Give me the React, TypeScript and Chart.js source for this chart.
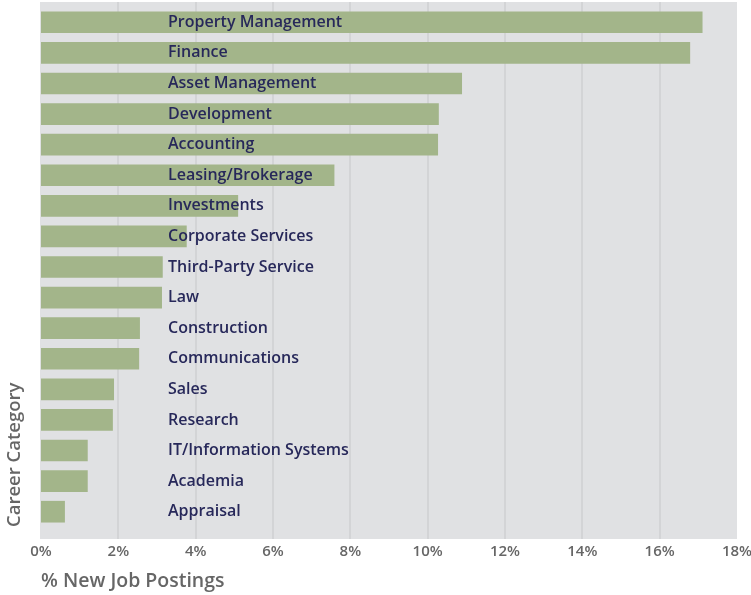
import { useEffect, useRef } from 'react';
import { Chart, registerables } from 'chart.js';

Chart.register(...registerables);

const categories = [
  'Property Management',
  'Finance',
  'Asset Management',
  'Development',
  'Accounting',
  'Leasing/Brokerage',
  'Investments',
  'Corporate Services',
  'Third-Party Service',
  'Law',
  'Construction',
  'Communications',
  'Sales',
  'Research',
  'IT/Information Systems',
  'Academia',
  'Appraisal',
];

const postings = [17.1, 16.78, 10.88, 10.28, 10.26, 7.58, 5.09, 3.76, 3.14, 3.12, 2.55, 2.53, 1.88, 1.85, 1.2, 1.2, 0.61];

const xTickValues = [0, 2, 4, 6, 8, 10, 12, 14, 16, 18];
const gridValues = [2, 4, 6, 8, 10, 12, 14, 16];

const BAR = '#a3b58a';
const BG = '#e0e1e3';
const GRID = '#d3d4d6';
const NAVY = '#27285a';
const GRAY = '#666666';

export default function App() {
  const ref = useRef<HTMLCanvasElement>(null);

  useEffect(() => {
    document.body.style.margin = '0';
    if (!ref.current) return;

    const bgPlugin = {
      id: 'plotBg',
      beforeDraw(chart: any) {
        const { ctx, chartArea: a, scales } = chart;
        const x = scales.x;
        const top = a.top - 5;
        const bottom = a.bottom + 12;
        ctx.save();
        ctx.fillStyle = BG;
        ctx.fillRect(a.left - 1, top, a.right - a.left + 1, bottom - top);
        ctx.strokeStyle = GRID;
        ctx.lineWidth = 2;
        for (const v of gridValues) {
          const px = Math.round(x.getPixelForValue(v));
          ctx.beginPath();
          ctx.moveTo(px, top);
          ctx.lineTo(px, bottom);
          ctx.stroke();
        }
        ctx.restore();
      },
    };

    const chart = new Chart(ref.current, {
      type: 'bar',
      data: {
        labels: categories,
        datasets: [
          {
            data: postings,
            backgroundColor: BAR,
            borderWidth: 0,
            barThickness: 21,
          },
        ],
      },
      plugins: [bgPlugin],
      options: {
        indexAxis: 'y',
        animation: false,
        responsive: false,
        maintainAspectRatio: false,
        layout: { padding: { top: 7, left: 0, right: 0, bottom: 0 } },
        plugins: {
          legend: { display: false },
          tooltip: { enabled: false },
        },
        scales: {
          x: {
            type: 'linear',
            min: 0,
            max: 18,
            afterBuildTicks(scale: any) {
              scale.ticks = xTickValues.map((v) => ({ value: v }));
            },
            afterFit(scale: any) {
              scale.height = 68;
              scale.paddingRight = 14;
              scale.paddingLeft = 0;
            },
            grid: { display: false, drawTicks: false },
            border: { display: false },
            ticks: {
              padding: 16,
              color: GRAY,
              font: { family: 'Open Sans', size: 15, weight: '600' },
              callback: (v: any) => v + '%',
            },
            title: {
              display: true,
              text: '% New Job Postings',
              align: 'start',
              color: GRAY,
              font: { family: 'Open Sans', size: 19.5, weight: '600' },
              padding: { top: 8, bottom: 2 },
            },
          },
          y: {
            grid: { display: false, drawTicks: false },
            border: { display: false },
            afterFit(scale: any) {
              scale.width = 41;
              scale.paddingTop = 0;
              scale.paddingBottom = 0;
            },
            ticks: {
              mirror: true,
              padding: 127,
              z: 1,
              color: NAVY,
              font: { family: 'Open Sans', size: 16, weight: '600' },
            },
            title: {
              display: true,
              text: 'Career Category',
              align: 'start',
              color: GRAY,
              font: { family: 'Open Sans', size: 18.5, weight: '600' },
              padding: { top: 4, bottom: 13 },
            },
          },
        },
      },
    });

    return () => chart.destroy();
  }, []);

  return <canvas ref={ref} width={751} height={595} style={{ display: 'block' }} />;
}
